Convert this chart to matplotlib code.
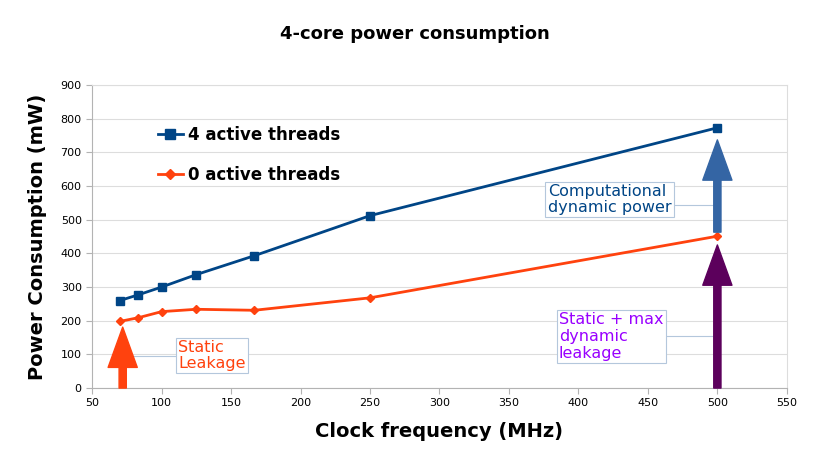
import matplotlib
matplotlib.use('Agg')
import matplotlib.pyplot as plt

freqs = [70, 83.3, 100, 125, 166.7, 250, 500]
power_4threads = [260, 277, 300, 337, 393, 512, 773]
power_0threads = [198, 209, 227, 234, 231, 268, 451]

x_ticks = [50, 100, 150, 200, 250, 300, 350, 400, 450, 500, 550]
y_ticks = [0, 100, 200, 300, 400, 500, 600, 700, 800, 900]

fig = plt.figure(figsize=(8.3, 4.67), dpi=100)
ax = fig.add_axes([0.111, 0.169, 0.837, 0.649])

ax.plot(freqs, power_4threads, color='#004586', lw=2, marker='s', ms=6,
        label='4 active threads')
ax.plot(freqs, power_0threads, color='#ff420e', lw=2, marker='D', ms=4,
        label='0 active threads')

ax.set_xlim(50, 550)
ax.set_ylim(0, 900)
ax.set_xticks(x_ticks)
ax.set_yticks(y_ticks)
ax.tick_params(labelsize=8, length=4, color='#b3b3b3')
ax.yaxis.grid(True, color='#dddddd', lw=0.8)
ax.set_axisbelow(True)
ax.spines['left'].set_color('#b3b3b3')
ax.spines['bottom'].set_color('#b3b3b3')
ax.spines['top'].set_color('#dddddd')
ax.spines['right'].set_color('#dddddd')

ax.set_xlabel('Clock frequency (MHz)', fontsize=14, fontweight='bold', labelpad=10)
ax.set_ylabel('Power Consumption (mW)', fontsize=14, fontweight='bold', labelpad=10)
fig.suptitle('4-core power consumption', fontsize=13, fontweight='bold', y=0.947)

leg = ax.legend(loc='upper left', bbox_to_anchor=(0.073, 0.914), frameon=False,
                prop={'size': 12, 'weight': 'bold'}, markerscale=1.2,
                handlelength=1.5, handletextpad=0.3, labelspacing=1.3)


def big_arrow(x, y0, y1, color):
    ax.annotate('', xy=(x, y1), xytext=(x, y0),
                arrowprops=dict(arrowstyle='simple,head_length=1.45,head_width=1.05,tail_width=0.26',
                                mutation_scale=20, color=color, shrinkA=0, shrinkB=0),
                annotation_clip=False)


# arrows
big_arrow(72, 0, 181, '#ff420e')
big_arrow(500, 463, 737, '#3465a4')
big_arrow(500, 0, 425, '#5c005c')

# callout connectors
ax.plot([73, 111], [96, 96], color='#b4c7dc', lw=0.8)
ax.plot([460, 500], [545, 545], color='#b4c7dc', lw=0.8)
ax.plot([455, 500], [155, 155], color='#b4c7dc', lw=0.8)

box = dict(boxstyle='square,pad=0.15', fc='white', ec='#b4c7dc', lw=0.8)
ax.text(112, 96, 'Static\nLeakage', color='#ff420e', fontsize=11.5,
        va='center', ha='left', bbox=box, linespacing=1.05)
ax.text(378, 560, 'Computational\ndynamic power', color='#004586', fontsize=11.5,
        va='center', ha='left', bbox=box, linespacing=1.05)
ax.text(386, 153, 'Static + max\ndynamic\nleakage', color='#9900ff', fontsize=11.5,
        va='center', ha='left', bbox=box, linespacing=1.15)

fig.savefig('out.png', dpi=100)
